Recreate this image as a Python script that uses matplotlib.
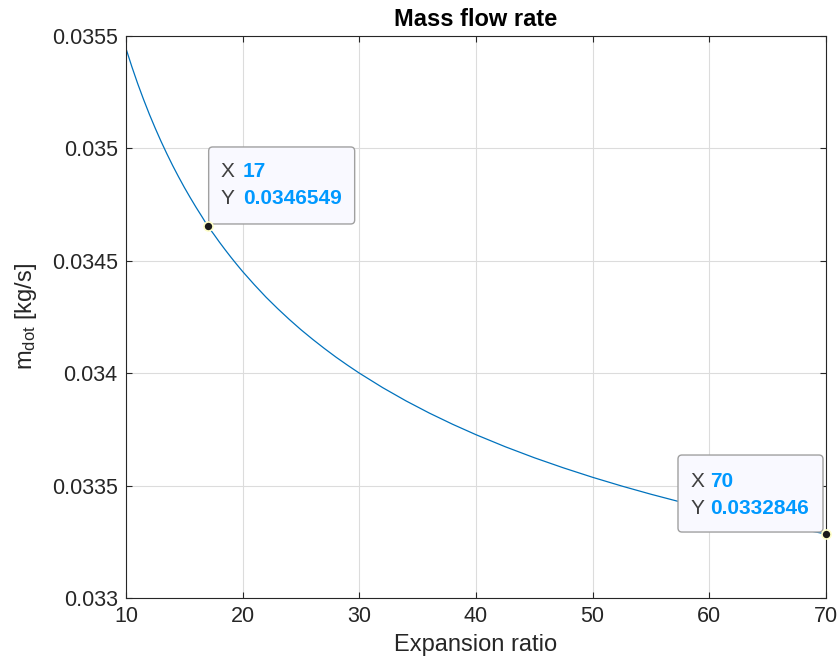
import matplotlib
matplotlib.use("Agg")
import matplotlib.pyplot as plt
import matplotlib.transforms as mtransforms
from matplotlib.patches import FancyBboxPatch

# Mass flow rate vs nozzle expansion ratio
expansion_ratio = [10, 10.5, 11, 11.5, 12, 12.5, 13, 13.5, 14, 14.5, 15, 15.5,
                   16, 16.5, 17, 17.5, 18, 18.5, 19, 19.5, 20, 21, 22, 23, 24,
                   25, 26, 27, 28, 29, 30, 32, 34, 36, 38, 40, 42.5, 45, 47.5,
                   50, 52.5, 55, 57.5, 60, 62.5, 65, 67.5, 70]
mass_flow = [0.0354439, 0.0353636, 0.0352884, 0.0352184, 0.0351522,
             0.0350904, 0.0350317, 0.0349764, 0.0349237, 0.0348741,
             0.0348265, 0.0347815, 0.0347383, 0.0346972, 0.0346549,
             0.0346200, 0.0345836, 0.0345490, 0.0345155, 0.0344833,
             0.0344521, 0.0343937, 0.0343383, 0.0342873, 0.0342390,
             0.0341933, 0.0341507, 0.0341101, 0.0340714, 0.0340351,
             0.0340003, 0.0339358, 0.0338768, 0.0338226, 0.0337727,
             0.0337264, 0.0336730, 0.0336239, 0.0335788, 0.0335368,
             0.0334979, 0.0334615, 0.0334275, 0.0333956, 0.0333655,
             0.0333372, 0.0333103, 0.0332846]

x_ticks = [10, 20, 30, 40, 50, 60, 70]
y_ticks = [0.033, 0.0335, 0.034, 0.0345, 0.035, 0.0355]
y_tick_labels = ["0.033", "0.0335", "0.034", "0.0345", "0.035", "0.0355"]

# data tips: (x, y) of the marked points
tip_points = [(17, 0.0346549), (70, 0.0332846)]

plt.rcParams["font.family"] = ["Liberation Sans", "DejaVu Sans"]
plt.rcParams["mathtext.default"] = "regular"

TXT = "#262626"
fig = plt.figure(figsize=(8.39, 6.62), dpi=100)
ax = fig.add_axes([126 / 839, 64 / 662, 700 / 839, 562 / 662])

ax.plot(expansion_ratio, mass_flow, color="#0072BD", lw=0.9)

ax.set_xlim(10, 70)
ax.set_ylim(0.033, 0.0355)
ax.set_xticks(x_ticks)
ax.set_yticks(y_ticks)
ax.set_yticklabels(y_tick_labels)
ax.grid(True, color="#DCDCDC", lw=0.8)
ax.set_axisbelow(True)
ax.tick_params(direction="in", length=4.5, width=0.8, top=True, right=True,
               colors=TXT, labelsize=15.5, pad=6)
for sp in ax.spines.values():
    sp.set_color(TXT)
    sp.set_linewidth(0.8)

ax.set_title("Mass flow rate", fontsize=17, fontweight="bold", color="black", pad=7)
ax.set_xlabel("Expansion ratio", fontsize=17, color=TXT, labelpad=5)
ax.set_ylabel("m$_{dot}$ [kg/s]", fontsize=17, color=TXT, labelpad=9)

# data tip boxes, laid out in pixel offsets from each marked point
tip_layout = [
    # box (dx0, dy0, dx1, dy1), label x, value x, line1 dy, line2 dy
    ((1, 2, 147, 79), 13, 35, 54, 27),
    ((-148, 2, -3, 79), -135, -116, 53, 26),
]
for (px, py), (box, lx, vx, d1, d2) in zip(tip_points, tip_layout):
    tr = mtransforms.IdentityTransform() + mtransforms.ScaledTranslation(px, py, ax.transData)
    x0, y0, x1, y1 = box
    patch = FancyBboxPatch((x0, y0), x1 - x0, y1 - y0,
                           boxstyle="round,pad=0,rounding_size=4",
                           transform=tr, fc="#F9F9FF", ec="#A0A0A0", lw=1.0,
                           zorder=5, clip_on=False)
    ax.add_patch(patch)
    ax.text(lx, d1, "X", transform=tr, fontsize=15, color="#404040",
            va="center", ha="left", zorder=6)
    ax.text(lx, d2, "Y", transform=tr, fontsize=15, color="#404040",
            va="center", ha="left", zorder=6)
    ax.text(vx, d1, f"{px:g}", transform=tr, fontsize=15, color="#0099FF",
            fontweight="bold", va="center", ha="left", zorder=6)
    ax.text(vx, d2, f"{py:.7f}".rstrip("0"), transform=tr, fontsize=15,
            color="#0099FF", fontweight="bold", va="center", ha="left", zorder=6)
    ax.plot([px], [py], "o", ms=6.5, mfc="#1A1A1A", mec="#FFFFC8", mew=1.2,
            zorder=7, clip_on=False)

fig.savefig("out.png", dpi=100)
